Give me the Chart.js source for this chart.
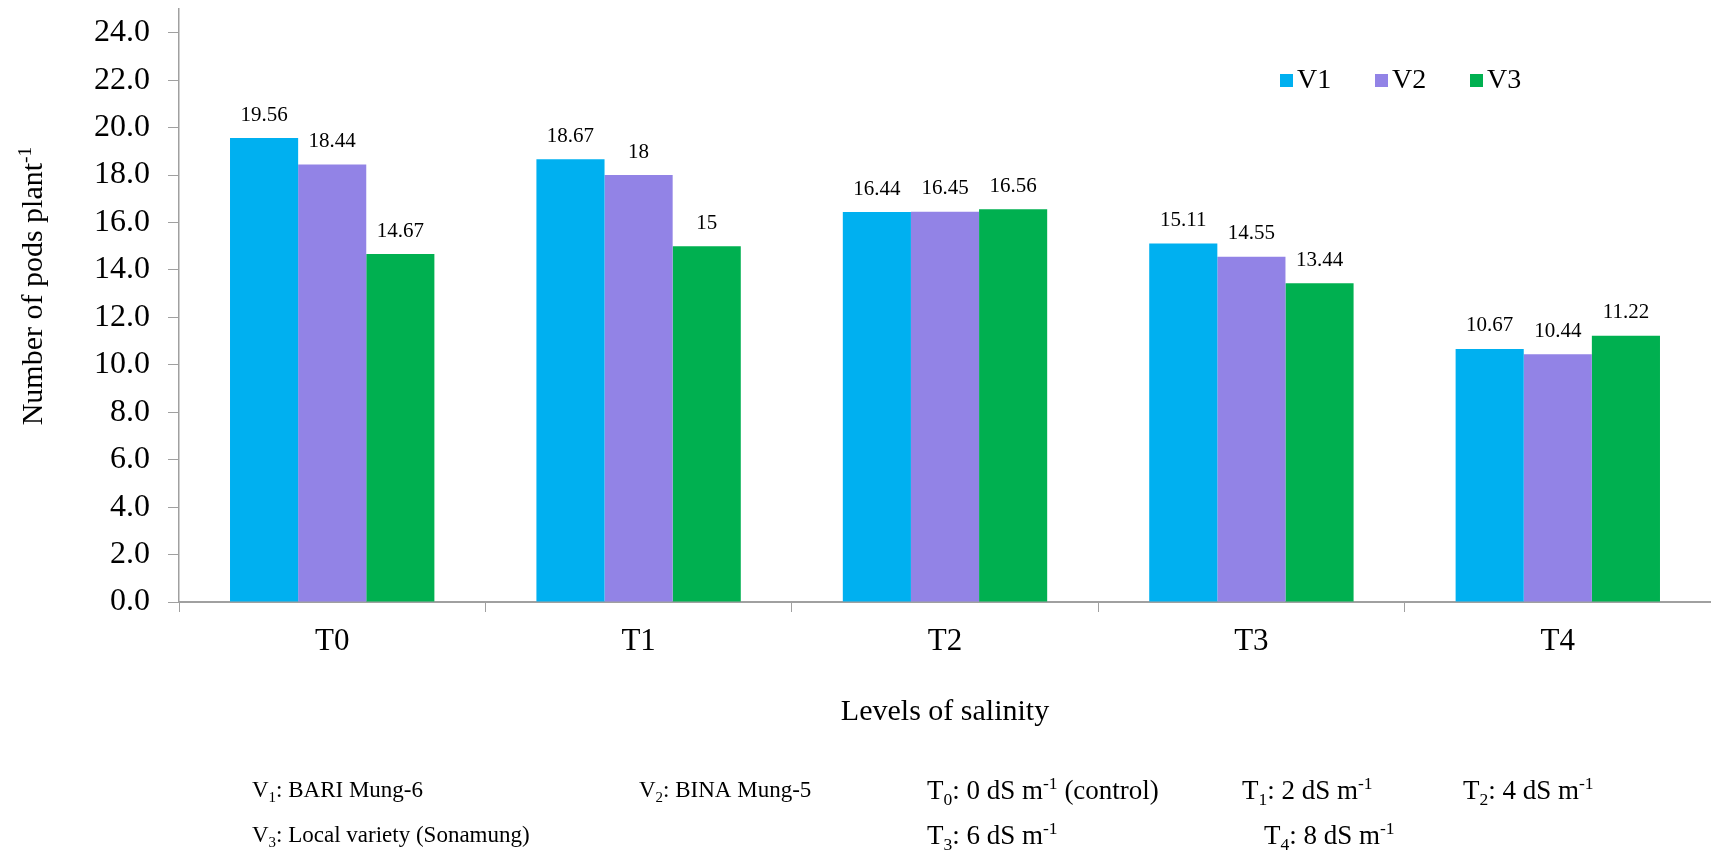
<!DOCTYPE html>
<html>
<head>
<meta charset="utf-8">
<script src="https://cdn.jsdelivr.net/npm/chart.js@4/dist/chart.umd.min.js"></script>
<style>
  html, body { margin: 0; padding: 0; background: #ffffff; }
  #wrap { width: 1711px; height: 857px; }
</style>
</head>
<body>
<div id="wrap"><canvas id="c" width="1711" height="857"></canvas></div>
<script>
// ---------------- data ----------------
const categories = ['T0', 'T1', 'T2', 'T3', 'T4'];
const seriesNames = ['V1', 'V2', 'V3'];
const v1Values = [19.56, 18.67, 16.44, 15.11, 10.67];
const v2Values = [18.44, 18, 16.45, 14.55, 10.44];
const v3Values = [14.67, 15, 16.56, 13.44, 11.22];
const yTickValues = [0, 2, 4, 6, 8, 10, 12, 14, 16, 18, 20, 22, 24];
const yAxisMax = 25;
const yTitle = 'Number of pods plant^{-1}';
const xTitle = 'Levels of salinity';
const noteLine1V = ['V_{1}: BARI Mung-6', 'V_{2}: BINA Mung-5'];
const noteLine1T = ['T_{0}: 0 dS m^{-1} (control)', 'T_{1}: 2 dS m^{-1}', 'T_{2}: 4 dS m^{-1}'];
const noteLine2V = ['V_{3}: Local variety (Sonamung)'];
const noteLine2T = ['T_{3}: 6 dS m^{-1}', 'T_{4}: 8 dS m^{-1}'];

// ---------------- styles ----------------
const SERIF = "'Liberation Serif', 'Times New Roman', Times, serif";
const seriesColors = ['#00B0F0', '#9283E6', '#00B050'];
const axisColor = '#A0A0A0';

function richParts(str) {
  return str.split(/(_\{[^}]*\}|\^\{[^}]*\})/).filter(s => s.length);
}
function richWidth(ctx, str, size) {
  let w = 0;
  for (const p of richParts(str)) {
    let txt = p, fs = size;
    if (p.startsWith('_{') || p.startsWith('^{')) { txt = p.slice(2, -1); fs = size * 0.65; }
    ctx.font = fs + 'px ' + SERIF;
    w += ctx.measureText(txt).width;
  }
  return w;
}
function drawRich(ctx, str, x, y, size) {
  let cx = x;
  ctx.textBaseline = 'alphabetic';
  ctx.textAlign = 'left';
  for (const p of richParts(str)) {
    let txt = p, fs = size, dy = 0;
    if (p.startsWith('_{')) { txt = p.slice(2, -1); fs = size * 0.65; dy = size * 0.22; }
    else if (p.startsWith('^{')) { txt = p.slice(2, -1); fs = size * 0.65; dy = -size * 0.38; }
    ctx.font = fs + 'px ' + SERIF;
    ctx.fillText(txt, cx, y + dy);
    cx += ctx.measureText(txt).width;
  }
}

const valueLabelsPlugin = {
  id: 'valueLabels',
  afterDatasetsDraw(chart) {
    const ctx = chart.ctx;
    ctx.save();
    ctx.fillStyle = '#000';
    ctx.font = '21px ' + SERIF;
    ctx.textAlign = 'center';
    ctx.textBaseline = 'middle';
    chart.data.datasets.forEach((ds, di) => {
      const meta = chart.getDatasetMeta(di);
      meta.data.forEach((bar, i) => {
        ctx.fillText(String(ds.data[i]), bar.x, bar.y - 23);
      });
    });
    ctx.restore();
  }
};

const customLegendPlugin = {
  id: 'customLegend',
  afterDraw(chart) {
    const ctx = chart.ctx;
    const ca = chart.chartArea;
    ctx.save();
    const startX = ca.right - 431;
    const step = 95;
    const boxTop = ca.top + 65;
    chart.data.datasets.forEach((ds, i) => {
      const bx = startX + i * step;
      ctx.fillStyle = ds.backgroundColor;
      ctx.fillRect(bx, boxTop, 13, 13);
      ctx.fillStyle = '#000';
      ctx.font = '28px ' + SERIF;
      ctx.textAlign = 'left';
      ctx.textBaseline = 'middle';
      ctx.fillText(ds.label, bx + 17, boxTop + 7);
    });
    ctx.restore();
  }
};

const yTitlePlugin = {
  id: 'yTitle',
  afterDraw(chart) {
    const ctx = chart.ctx;
    ctx.save();
    ctx.fillStyle = '#000';
    const size = 30;
    const w = richWidth(ctx, yTitle, size);
    ctx.translate(42, 286);
    ctx.rotate(-Math.PI / 2);
    drawRich(ctx, yTitle, -w / 2, 0, size);
    ctx.restore();
  }
};

const notesPlugin = {
  id: 'notes',
  afterDraw(chart) {
    const ctx = chart.ctx;
    ctx.save();
    ctx.fillStyle = '#000';
    const v1x = [252, 639], t1x = [927, 1242, 1463];
    const v2x = [252], t2x = [927, 1264];
    noteLine1V.forEach((t, i) => drawRich(ctx, t, v1x[i], 797, 23));
    noteLine1T.forEach((t, i) => drawRich(ctx, t, t1x[i], 799, 27));
    noteLine2V.forEach((t, i) => drawRich(ctx, t, v2x[i], 842, 23));
    noteLine2T.forEach((t, i) => drawRich(ctx, t, t2x[i], 844, 27));
    ctx.restore();
  }
};

const datasets = [v1Values, v2Values, v3Values].map((vals, i) => ({
  label: seriesNames[i],
  data: vals,
  backgroundColor: seriesColors[i],
  borderWidth: 0,
  categoryPercentage: 0.667,
  barPercentage: 1.0
}));

new Chart(document.getElementById('c'), {
  type: 'bar',
  data: { labels: categories, datasets },
  plugins: [valueLabelsPlugin, customLegendPlugin, yTitlePlugin, notesPlugin],
  options: {
    responsive: false,
    animation: false,
    layout: { padding: { left: 0, right: 0, top: 9, bottom: 0 } },
    plugins: {
      legend: { display: false },
      tooltip: { enabled: false },
      title: { display: false }
    },
    scales: {
      x: {
        offset: true,
        afterFit(scale) { scale.height = 255; scale.paddingLeft = 0; scale.paddingRight = 0; },
        grid: {
          offset: true,
          drawOnChartArea: false,
          drawTicks: true,
          tickLength: 10,
          color: axisColor,
          lineWidth: 1
        },
        border: { display: true, color: axisColor, width: 2 },
        ticks: {
          color: '#000',
          padding: 11,
          font: { family: SERIF, size: 31 }
        },
        title: {
          display: true,
          text: xTitle,
          color: '#000',
          font: { family: SERIF, size: 30, lineHeight: 1.2 },
          padding: { top: 0, bottom: 127 }
        }
      },
      y: {
        min: 0,
        max: yAxisMax,
        afterFit(scale) { scale.width = 179; scale.paddingTop = 0; scale.paddingBottom = 0; },
        afterBuildTicks(scale) {
          scale.ticks = yTickValues.map(v => ({ value: v }));
        },
        grid: {
          drawOnChartArea: false,
          drawTicks: true,
          tickLength: 11,
          color: axisColor,
          lineWidth: 1
        },
        border: { display: true, color: axisColor, width: 1.5 },
        ticks: {
          color: '#000',
          padding: 18,
          font: { family: SERIF, size: 32 },
          callback: (v) => Number(v).toFixed(1)
        },
        title: { display: false }
      }
    }
  }
});
</script>
</body>
</html>
